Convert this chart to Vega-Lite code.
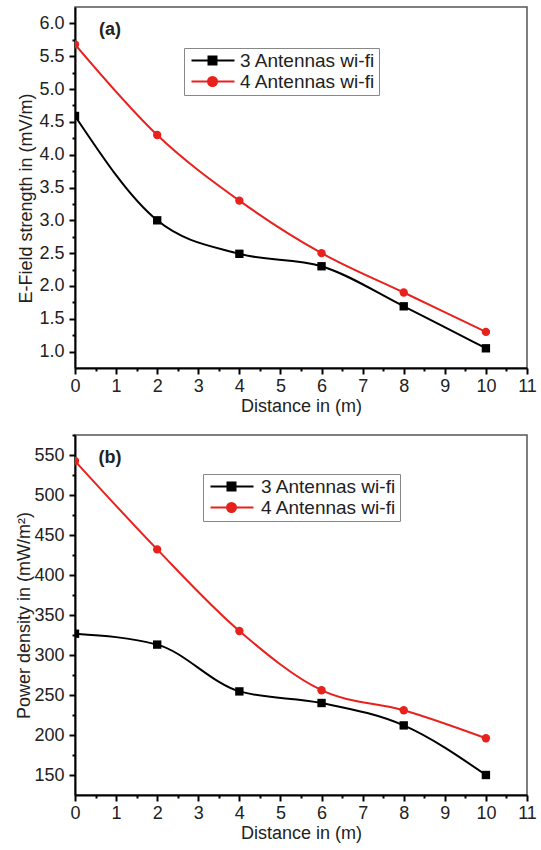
{
  "$schema": "https://vega.github.io/schema/vega-lite/v6.json",
  "padding": {"left": 15, "top": 6, "right": 14, "bottom": 0},
  "background": "white",
  "datasets": {
    "efield": [
      {"distance": 0, "series": "3 Antennas wi-fi", "value": 4.59},
      {"distance": 2, "series": "3 Antennas wi-fi", "value": 3.0},
      {"distance": 4, "series": "3 Antennas wi-fi", "value": 2.49},
      {"distance": 6, "series": "3 Antennas wi-fi", "value": 2.3},
      {"distance": 8, "series": "3 Antennas wi-fi", "value": 1.69},
      {"distance": 10, "series": "3 Antennas wi-fi", "value": 1.05},
      {"distance": 0, "series": "4 Antennas wi-fi", "value": 5.68},
      {"distance": 2, "series": "4 Antennas wi-fi", "value": 4.3},
      {"distance": 4, "series": "4 Antennas wi-fi", "value": 3.3},
      {"distance": 6, "series": "4 Antennas wi-fi", "value": 2.5},
      {"distance": 8, "series": "4 Antennas wi-fi", "value": 1.9},
      {"distance": 10, "series": "4 Antennas wi-fi", "value": 1.3}
    ],
    "power": [
      {"distance": 0, "series": "3 Antennas wi-fi", "value": 326.6},
      {"distance": 2, "series": "3 Antennas wi-fi", "value": 313},
      {"distance": 4, "series": "3 Antennas wi-fi", "value": 254.5},
      {"distance": 6, "series": "3 Antennas wi-fi", "value": 240},
      {"distance": 8, "series": "3 Antennas wi-fi", "value": 212},
      {"distance": 10, "series": "3 Antennas wi-fi", "value": 150},
      {"distance": 0, "series": "4 Antennas wi-fi", "value": 542.5},
      {"distance": 2, "series": "4 Antennas wi-fi", "value": 432},
      {"distance": 4, "series": "4 Antennas wi-fi", "value": 330},
      {"distance": 6, "series": "4 Antennas wi-fi", "value": 256},
      {"distance": 8, "series": "4 Antennas wi-fi", "value": 231},
      {"distance": 10, "series": "4 Antennas wi-fi", "value": 196}
    ],
    "labelA": [{"distance": 0.85, "value": 5.9, "label": "(a)"}],
    "labelB": [{"distance": 0.85, "value": 546, "label": "(b)"}]
  },
  "config": {
    "view": {"stroke": "#555555", "strokeWidth": 1.5},
    "font": "Liberation Sans",
    "axis": {
      "grid": false,
      "domainColor": "#000000",
      "domainWidth": 2,
      "tickColor": "#000000",
      "tickWidth": 2,
      "labelFont": "Liberation Sans",
      "labelFontSize": 18,
      "labelColor": "#222222",
      "titleFont": "Liberation Sans",
      "titleFontSize": 18,
      "titleFontWeight": "normal",
      "titleColor": "#222222"
    }
  },
  "spacing": 67,
  "bounds": "flush",
  "resolve": {"scale": {"color": "independent"}, "legend": {"color": "independent"}},
  "vconcat": [
    {
      "width": 452,
      "height": 361,
      "resolve": {"axis": {"x": "independent", "y": "independent"}},
      "layer": [
        {
          "data": {"name": "efield"},
          "mark": {"type": "line", "interpolate": "monotone", "strokeWidth": 2, "clip": true},
          "encoding": {
            "x": {
              "field": "distance", "type": "quantitative",
              "scale": {"domain": [0, 11], "nice": false, "zero": false},
              "axis": {
                "orient": "bottom",
                "title": "Distance in (m)",
                "values": [0, 1, 2, 3, 4, 5, 6, 7, 8, 9, 10, 11],
                "format": "d",
                "tickSize": 6,
                "labelOverlap": false,
                "labelFlush": false,
                "labelPadding": 3,
                "titlePadding": 2
              }
            },
            "y": {
              "field": "value", "type": "quantitative",
              "scale": {"domain": [0.75, 6.25], "nice": false, "zero": false},
              "axis": {
                "orient": "left",
                "title": "E-Field strength in (mV/m)",
                "titleY": 191,
                "values": [1, 1.5, 2, 2.5, 3, 3.5, 4, 4.5, 5, 5.5, 6],
                "format": ".1f",
                "tickSize": 6,
                "labelOverlap": false,
                "labelFlush": false,
                "labelPadding": 5,
                "titlePadding": 3
              }
            },
            "color": {
              "field": "series", "type": "nominal",
              "scale": {"domain": ["3 Antennas wi-fi", "4 Antennas wi-fi"], "range": ["#000000", "#e8211d"]},
              "legend": {
                "title": null,
                "orient": "none",
                "legendX": 109,
                "legendY": 41,
                "labelFont": "Liberation Sans",
                "labelFontSize": 19,
                "labelColor": "#222222",
                "strokeColor": "#888888",
                "padding": 3,
                "rowPadding": 1,
                "symbolSize": 100,
                "labelOffset": 34,
                "encode": {
                  "symbols": {
                    "update": {
                      "shape": {"signal": "datum.value === '3 Antennas wi-fi' ? 'M-1,0H7.6M2.4,-0.8H4V0.8H2.4Z' : 'M-1,0H7.6M2.3,0A0.9,0.9,0,1,0,4.1,0A0.9,0.9,0,1,0,2.3,0Z'"},
                      "fill": {"signal": "datum.value === '3 Antennas wi-fi' ? '#000000' : '#e8211d'"},
                      "stroke": {"signal": "datum.value === '3 Antennas wi-fi' ? '#000000' : '#e8211d'"},
                      "strokeWidth": {"value": 2},
                      "opacity": {"value": 1},
                      "fillOpacity": {"value": 1}
                    }
                  }
                }
              }
            }
          }
        },
        {
          "data": {"name": "efield"},
          "mark": {"type": "point", "filled": true, "opacity": 1, "clip": true, "size": 70},
          "encoding": {
            "x": {
              "field": "distance", "type": "quantitative",
              "axis": {
                "orient": "bottom",
                "title": null,
                "values": [0.5, 1.5, 2.5, 3.5, 4.5, 5.5, 6.5, 7.5, 8.5, 9.5, 10.5],
                "labels": false,
                "domain": false,
                "tickSize": 3
              }
            },
            "y": {
              "field": "value", "type": "quantitative",
              "axis": {
                "orient": "left",
                "title": null,
                "values": [1.25, 1.75, 2.25, 2.75, 3.25, 3.75, 4.25, 4.75, 5.25, 5.75],
                "labels": false,
                "domain": false,
                "tickSize": 3
              }
            },
            "color": {"field": "series", "type": "nominal"},
            "shape": {
              "field": "series", "type": "nominal",
              "scale": {"domain": ["3 Antennas wi-fi", "4 Antennas wi-fi"], "range": ["square", "circle"]},
              "legend": null
            }
          }
        },
        {
          "data": {"name": "labelA"},
          "mark": {"type": "text", "fontSize": 18, "font": "Liberation Sans", "fontWeight": "bold", "color": "#222222", "align": "center", "baseline": "middle"},
          "encoding": {
            "x": {"field": "distance", "type": "quantitative", "axis": null},
            "y": {"field": "value", "type": "quantitative", "axis": null},
            "text": {"field": "label"}
          }
        }
      ]
    },
    {
      "width": 452,
      "height": 360,
      "resolve": {"axis": {"x": "independent", "y": "independent"}},
      "layer": [
        {
          "data": {"name": "power"},
          "mark": {"type": "line", "interpolate": "monotone", "strokeWidth": 2, "clip": true},
          "encoding": {
            "x": {
              "field": "distance", "type": "quantitative",
              "scale": {"domain": [0, 11], "nice": false, "zero": false},
              "axis": {
                "orient": "bottom",
                "title": "Distance in (m)",
                "values": [0, 1, 2, 3, 4, 5, 6, 7, 8, 9, 10, 11],
                "format": "d",
                "tickSize": 6,
                "labelOverlap": false,
                "labelFlush": false,
                "labelPadding": 3,
                "titlePadding": 2
              }
            },
            "y": {
              "field": "value", "type": "quantitative",
              "scale": {"domain": [125, 575], "nice": false, "zero": false},
              "axis": {
                "orient": "left",
                "title": "Power density in (mW/m²)",
                "values": [150, 200, 250, 300, 350, 400, 450, 500, 550],
                "format": "d",
                "tickSize": 6,
                "labelOverlap": false,
                "labelFlush": false,
                "labelPadding": 5,
                "titlePadding": 0
              }
            },
            "color": {
              "field": "series", "type": "nominal",
              "scale": {"domain": ["3 Antennas wi-fi", "4 Antennas wi-fi"], "range": ["#000000", "#e8211d"]},
              "legend": {
                "title": null,
                "orient": "none",
                "legendX": 128,
                "legendY": 39,
                "labelFont": "Liberation Sans",
                "labelFontSize": 19,
                "labelColor": "#222222",
                "strokeColor": "#888888",
                "padding": 3,
                "rowPadding": 1,
                "symbolSize": 100,
                "labelOffset": 36,
                "encode": {
                  "symbols": {
                    "update": {
                      "shape": {"signal": "datum.value === '3 Antennas wi-fi' ? 'M-1,0H7.6M2.4,-0.8H4V0.8H2.4Z' : 'M-1,0H7.6M2.3,0A0.9,0.9,0,1,0,4.1,0A0.9,0.9,0,1,0,2.3,0Z'"},
                      "fill": {"signal": "datum.value === '3 Antennas wi-fi' ? '#000000' : '#e8211d'"},
                      "stroke": {"signal": "datum.value === '3 Antennas wi-fi' ? '#000000' : '#e8211d'"},
                      "strokeWidth": {"value": 2},
                      "opacity": {"value": 1},
                      "fillOpacity": {"value": 1}
                    }
                  }
                }
              }
            }
          }
        },
        {
          "data": {"name": "power"},
          "mark": {"type": "point", "filled": true, "opacity": 1, "clip": true, "size": 70},
          "encoding": {
            "x": {
              "field": "distance", "type": "quantitative",
              "axis": {
                "orient": "bottom",
                "title": null,
                "values": [0.5, 1.5, 2.5, 3.5, 4.5, 5.5, 6.5, 7.5, 8.5, 9.5, 10.5],
                "labels": false,
                "domain": false,
                "tickSize": 3
              }
            },
            "y": {
              "field": "value", "type": "quantitative",
              "axis": {
                "orient": "left",
                "title": null,
                "values": [175, 225, 275, 325, 375, 425, 475, 525, 575],
                "labels": false,
                "domain": false,
                "tickSize": 3
              }
            },
            "color": {"field": "series", "type": "nominal"},
            "shape": {
              "field": "series", "type": "nominal",
              "scale": {"domain": ["3 Antennas wi-fi", "4 Antennas wi-fi"], "range": ["square", "circle"]},
              "legend": null
            }
          }
        },
        {
          "data": {"name": "labelB"},
          "mark": {"type": "text", "fontSize": 18, "font": "Liberation Sans", "fontWeight": "bold", "color": "#222222", "align": "center", "baseline": "middle"},
          "encoding": {
            "x": {"field": "distance", "type": "quantitative", "axis": null},
            "y": {"field": "value", "type": "quantitative", "axis": null},
            "text": {"field": "label"}
          }
        }
      ]
    }
  ]
}
